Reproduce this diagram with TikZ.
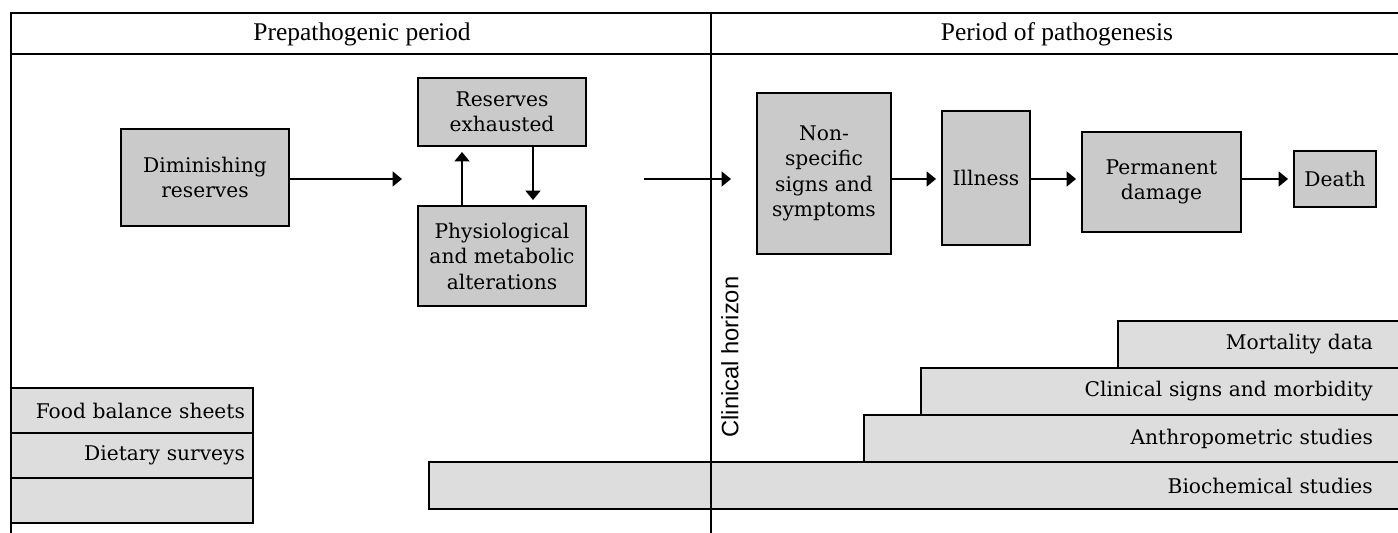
\documentclass[tikz,border=0pt]{standalone}
\usepackage{fontspec}
\setmainfont{DejaVu Serif}
\newfontfamily\headfont{Liberation Serif}
\newfontfamily\sidefont{Liberation Sans}
\usepackage{tikz}
\usetikzlibrary{arrows.meta,positioning,calc}
\definecolor{boxgray}{HTML}{CACACA}
\definecolor{bargray}{HTML}{DDDDDD}
\tikzset{
  stage/.style={rectangle,draw=black,line width=1.1pt,fill=boxgray,align=center,inner sep=2pt,font=\fontsize{11.5}{14.5}\selectfont},
  leftbar/.style={rectangle,draw=black,line width=1.1pt,fill=bargray,outer sep=0pt,minimum width=4.84cm,minimum height=0.9cm,text width=4.52cm,inner xsep=0.16cm,align=right,font=\fontsize{11.5}{14}\selectfont},
  rightbar/.style={rectangle,draw=black,line width=1.1pt,fill=bargray,outer sep=0pt,minimum height=0.94cm,inner xsep=0.54cm,align=right,anchor=north west,font=\fontsize{11.5}{14}\selectfont},
  headtext/.style={font=\headfont\fontsize{14.5}{16}\selectfont},
  sidetext/.style={font=\sidefont\fontsize{13.5}{15}\selectfont},
  frame/.style={line width=1.1pt},
  arrow/.style={-{Triangle[length=1.9mm,width=3mm]},line width=1.1pt},
  toarrow/.style={arrow,shorten >=1mm}
}
\begin{document}
\begin{tikzpicture}[x=0.02cm,y=-0.02cm]
  \useasboundingbox (0,0) rectangle (1398,533);
  % methods, left
  \node[leftbar,anchor=north west] (food) at (11,388) {Food balance sheets};
  \node[leftbar,below=0pt of food] (diet) {Dietary surveys};
  \node[leftbar,below=0pt of diet] (spare) {};
  % methods, right
  \node[rightbar,minimum width=5.64cm,text width=4.56cm] (mort) at (1118,321) {Mortality data};
  \node[rightbar,minimum width=9.58cm,text width=8.50cm] (clin) at (921,368) {Clinical signs and morbidity};
  \node[rightbar,minimum width=10.72cm,text width=9.64cm] (anthro) at (864,415) {Anthropometric studies};
  \node[rightbar,minimum width=19.42cm,text width=18.34cm] (biochem) at (429,462) {Biochemical studies};
  % frame
  \draw[frame] (11,533) -- (11,13) -- (1398,13);
  \draw[frame] (11,54) -- (1398,54);
  \draw[frame] (711,13) -- (711,533);
  \node[headtext] (prepath) at (362,34) {Prepathogenic period};
  \node[headtext] (pathgen) at (1057,34) {Period of pathogenesis};
  \node[sidetext,rotate=90] (horizon) at (730,357) {Clinical horizon};
  % stages
  \node[stage,minimum width=3.36cm,minimum height=1.94cm] (dimres) at (205,177.5) {Diminishing\\reserves};
  \node[stage,minimum width=3.36cm,minimum height=1.36cm] (resex) at (502,112) {Reserves\\exhausted};
  \node[stage,minimum width=3.36cm,minimum height=2.0cm] (physio) at (502,256) {Physiological\\and metabolic\\alterations};
  \node[stage,minimum width=2.68cm,minimum height=3.22cm] (nonspec) at (824,173.5) {Non-\\specific\\signs and\\symptoms};
  \node[stage,minimum width=1.76cm,minimum height=2.68cm] (illness) at (986,178) {Illness};
  \node[stage,minimum width=3.18cm,minimum height=2.0cm] (permdmg) at (1161.5,182) {Permanent\\damage};
  \node[stage,minimum width=1.64cm,minimum height=1.12cm] (death) at (1335,179) {Death};
  \coordinate (gapin) at (402,179);
  \coordinate (gapout) at (644,179);
  \coordinate (horizonin) at (731,179);
  \draw[arrow] (dimres.east |- gapin) -- (gapin);
  \draw[arrow] ([xshift=-0.8cm]physio.north) -- ([xshift=-0.8cm,yshift=-1mm]resex.south);
  \draw[toarrow] ([xshift=0.62cm]resex.south) -- ([xshift=0.62cm]physio.north);
  \draw[arrow] (gapout) -- (horizonin);
  \draw[toarrow] (nonspec.east |- horizonin) -- (illness.west |- horizonin);
  \draw[toarrow] (illness.east |- horizonin) -- (permdmg.west |- horizonin);
  \draw[toarrow] (permdmg.east |- horizonin) -- (death.west |- horizonin);
\end{tikzpicture}
\end{document}
